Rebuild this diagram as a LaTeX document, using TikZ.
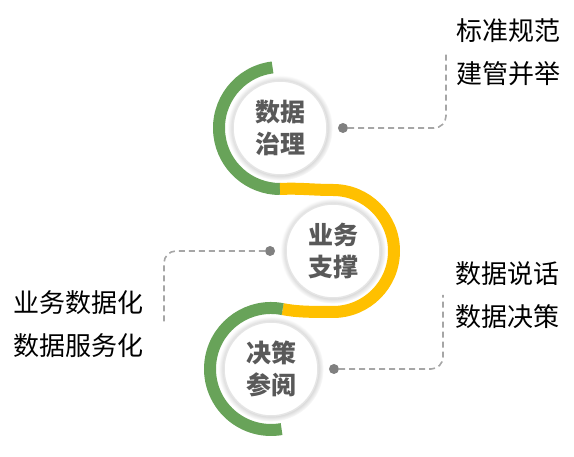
\documentclass[tikz,border=0pt]{standalone}
\usepackage{fontspec}
\newfontfamily\cjk{Noto Sans CJK SC}
\usetikzlibrary{positioning, shadows}
\definecolor{bandgreen}{RGB}{104,163,89}
\definecolor{bandyellow}{RGB}{255,192,0}
\definecolor{hubtext}{RGB}{89,89,89}
\definecolor{linkgray}{RGB}{166,166,166}
\definecolor{dotgray}{RGB}{128,128,128}

\begin{document}
\begin{tikzpicture}[x=1pt, y=1pt, node distance=10pt]
% Node styles
\tikzstyle{hub} = [circle, minimum size=94pt, inner sep=0pt, fill=white, draw=black!10, line width=1.5pt, circular glow={shadow scale=1.12, opacity=0.35, fill=black!60}, font=\cjk\bfseries\fontsize{25pt}{32pt}\selectfont, text=hubtext, align=center]
\tikzstyle{tipdot} = [circle, minimum size=10pt, inner sep=0pt, fill=dotgray]
\tikzstyle{note} = [inner sep=0pt, align=left, font=\cjk\fontsize{26pt}{43pt}\selectfont]
\tikzstyle{band} = [line width=12pt]
\tikzstyle{link} = [dash pattern=on 6pt off 4pt, line width=1.6pt, draw=linkgray, rounded corners=12pt]

\useasboundingbox (0,0) rectangle (574,457);

% Bands
\draw[band, bandgreen] (280,329) ++(97:61) arc[start angle=97, end angle=270, radius=61];
\draw[band, bandyellow] (280,268) .. controls (300,269) and (313,267) .. (333,267)
  arc[start angle=90, end angle=-90, radius=61] .. controls (313,145) and (297,145) .. (282.6,147.9);
\draw[band, bandgreen] (271,88) ++(79:61) arc[start angle=79, end angle=280, radius=61];

% Nodes
\node[hub] (c1) at (280,329) {数据\\治理};
\node[hub] (c2) at (333,206) {业务\\支撑};
\node[hub] (c3) at (271,88) {决策\\参阅};

\node[tipdot, right=of c1] (d1) {};
\node[tipdot, left=of c2] (d2) {};
\node[tipdot, right=of c3] (d3) {};

\node[note, anchor=west] (n1) at (456,405) {标准规范\\建管并举};
\node[note, anchor=east] (n2) at (144,133) {业务数据化\\数据服务化};
\node[note, anchor=west] (n3) at (455,162) {数据说话\\数据决策};

% Links
\draw[link] (d1.east) -| ([xshift=-10pt]n1.west);
\draw[link] (d2.west) -| ([xshift=20pt]n2.east);
\draw[link] (d3.east) -| ([xshift=-12pt]n3.west);
\end{tikzpicture}
\end{document}
